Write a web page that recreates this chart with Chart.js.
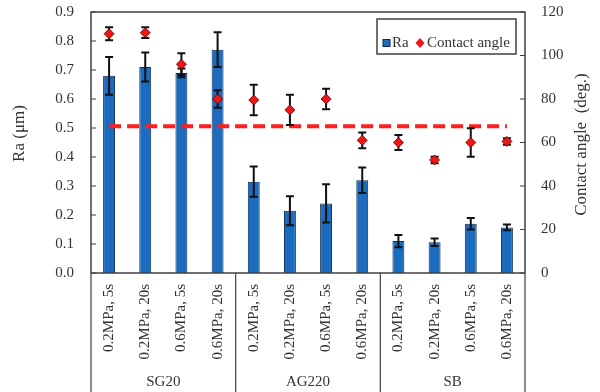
<!DOCTYPE html>
<html>
<head>
<meta charset="utf-8">
<script src="https://cdn.jsdelivr.net/npm/chart.js@4/dist/chart.umd.min.js"></script>
<style>
  html, body { margin: 0; padding: 0; background: #fff; }
  #wrap { width: 600px; height: 392px; }
</style>
</head>
<body>
<div id="wrap"><canvas id="c" width="600" height="392"></canvas></div>
<script>
// Blasting conditions (pressure, duration) repeated for each abrasive
const conditions = [
  '0.2MPa, 5s', '0.2MPa, 20s', '0.6MPa, 5s', '0.6MPa, 20s',
  '0.2MPa, 5s', '0.2MPa, 20s', '0.6MPa, 5s', '0.6MPa, 20s',
  '0.2MPa, 5s', '0.2MPa, 20s', '0.6MPa, 5s', '0.6MPa, 20s'
];
const groups = ['SG20', 'AG220', 'SB'];

// Surface roughness Ra (µm) and its standard deviation
const raValues = [0.68, 0.71, 0.69, 0.77, 0.315, 0.215, 0.24, 0.32, 0.11, 0.106, 0.17, 0.157];
const raErrors = [0.065, 0.05, 0.015, 0.06, 0.052, 0.05, 0.066, 0.044, 0.021, 0.013, 0.02, 0.01];

// Water contact angle (deg.) and its standard deviation
const angleValues = [110, 110.5, 96, 80, 79.5, 75, 80, 61, 60, 52, 60, 60.5];
const angleErrors = [3, 2.5, 5, 4, 7, 7, 4.7, 3.6, 3.4, 1.5, 6.5, 1.5];

// Reference contact angle shown as a dashed line
const referenceAngle = 67.5;

const raTicks = { min: 0, max: 0.9, step: 0.1 };
const angleTicks = { min: 0, max: 120, step: 20 };

const FONT = "'Liberation Serif', 'Times New Roman', serif";
const INK = '#333333';
const FRAME = '#404040';
const BAR_FILL = '#1b6bbf';
const BAR_EDGE = '#0e2a4e';
const DIAMOND_FILL = '#ee1616';
const DIAMOND_EDGE = '#5a0000';

function drawErrorBars(chart, values, errors, axisId) {
  const { ctx, scales } = chart;
  const xs = scales.x, ys = scales[axisId];
  ctx.save();
  ctx.strokeStyle = '#111111';
  ctx.lineWidth = 2;
  values.forEach((v, i) => {
    const px = xs.getPixelForValue(i);
    const top = ys.getPixelForValue(v + errors[i]);
    const bot = ys.getPixelForValue(v - errors[i]);
    ctx.beginPath();
    ctx.moveTo(px, top); ctx.lineTo(px, bot);
    ctx.moveTo(px - 4, top); ctx.lineTo(px + 4, top);
    ctx.moveTo(px - 4, bot); ctx.lineTo(px + 4, bot);
    ctx.stroke();
  });
  ctx.restore();
}

// keep the axis boxes at fixed sizes, with no extra label overflow padding
function fixBox(size, isHorizontal) {
  return s => {
    if (isHorizontal) s.height = size; else s.width = size;
    s.paddingTop = 0; s.paddingBottom = 0; s.paddingLeft = 0; s.paddingRight = 0;
  };
}

const decorations = {
  id: 'decorations',
  beforeDatasetDraw(chart, args) {
    if (args.index === 0) drawErrorBars(chart, angleValues, angleErrors, 'y1');
  },
  afterDatasetDraw(chart, args) {
    if (args.index === 2) drawErrorBars(chart, raValues, raErrors, 'y');
  },
  afterDraw(chart) {
    const { ctx, chartArea: a, scales } = chart;
    ctx.save();

    // plot frame
    ctx.strokeStyle = FRAME;
    ctx.lineWidth = 1.5;
    ctx.strokeRect(a.left, a.top, a.right - a.left, a.bottom - a.top);

    // inward tick marks on both value axes
    ctx.lineWidth = 1.2;
    ctx.beginPath();
    scales.y.ticks.forEach((t, i) => {
      const py = scales.y.getPixelForTick(i);
      ctx.moveTo(a.left, py); ctx.lineTo(a.left + 5, py);
    });
    scales.y1.ticks.forEach((t, i) => {
      const py = scales.y1.getPixelForTick(i);
      ctx.moveTo(a.right - 5, py); ctx.lineTo(a.right, py);
    });
    ctx.stroke();

    // separators between the abrasive groups below the axis
    const xs = scales.x;
    const n = conditions.length;
    const per = n / groups.length;
    ctx.lineWidth = 1.2;
    ctx.beginPath();
    for (let g = 0; g <= groups.length; g++) {
      let px;
      if (g === 0) px = a.left;
      else if (g === groups.length) px = a.right;
      else px = (xs.getPixelForValue(g * per - 1) + xs.getPixelForValue(g * per)) / 2;
      ctx.moveTo(px, a.bottom); ctx.lineTo(px, chart.height);
    }
    ctx.stroke();

    // axis titles
    ctx.fillStyle = INK;
    ctx.font = '17px ' + FONT;
    ctx.textAlign = 'center';
    ctx.textBaseline = 'middle';
    ctx.save();
    ctx.translate(20, (a.top + a.bottom) / 2 - 9);
    ctx.rotate(-Math.PI / 2);
    ctx.fillText('Ra (\u03bcm)', 0, 0);
    ctx.restore();
    ctx.save();
    ctx.translate(chart.width - 18, (a.top + a.bottom) / 2 + 2);
    ctx.rotate(-Math.PI / 2);
    ctx.fillText('Contact angle  (deg.)', 0, 0);
    ctx.restore();

    // legend box
    const lx = a.right - 148, ly = a.top + 7, lw = 139, lh = 35;
    ctx.fillStyle = '#ffffff';
    ctx.fillRect(lx, ly, lw, lh);
    ctx.strokeStyle = FRAME;
    ctx.lineWidth = 1.5;
    ctx.strokeRect(lx, ly, lw, lh);
    const cy = ly + 24;
    ctx.fillStyle = BAR_FILL;
    ctx.strokeStyle = BAR_EDGE;
    ctx.lineWidth = 1;
    ctx.fillRect(lx + 6, cy - 3.5, 7, 7);
    ctx.strokeRect(lx + 6, cy - 3.5, 7, 7);
    ctx.beginPath();
    const dx = lx + 43;
    ctx.moveTo(dx, cy - 5); ctx.lineTo(dx + 4.5, cy); ctx.lineTo(dx, cy + 5); ctx.lineTo(dx - 4.5, cy);
    ctx.closePath();
    ctx.fillStyle = DIAMOND_FILL;
    ctx.fill();
    ctx.fillStyle = INK;
    ctx.font = '15px ' + FONT;
    ctx.textAlign = 'left';
    ctx.fillText(chart.data.datasets[2].label, lx + 15, cy);
    ctx.fillText(chart.data.datasets[0].label, lx + 50, cy);

    ctx.restore();
  }
};

new Chart(document.getElementById('c'), {
  type: 'bar',
  data: {
    labels: conditions,
    datasets: [
      {
        type: 'line',
        label: 'Contact angle',
        data: angleValues,
        yAxisID: 'y1',
        showLine: false,
        pointStyle: 'rectRot',
        pointRadius: 5,
        pointBackgroundColor: DIAMOND_FILL,
        pointBorderColor: DIAMOND_EDGE,
        pointBorderWidth: 0.8,
        order: 1
      },
      {
        type: 'line',
        label: 'Reference',
        data: conditions.map(() => referenceAngle),
        yAxisID: 'y1',
        borderColor: '#ff1e1e',
        borderWidth: 4,
        borderDash: [12, 6],
        pointRadius: 0,
        fill: false,
        order: 2
      },
      {
        type: 'bar',
        label: 'Ra',
        data: raValues,
        yAxisID: 'y',
        backgroundColor: BAR_FILL,
        borderColor: BAR_EDGE,
        borderWidth: 1,
        categoryPercentage: 1,
        barPercentage: 0.33,
        order: 3
      }
    ]
  },
  options: {
    responsive: false,
    animation: false,
    devicePixelRatio: 1,
    layout: { padding: { top: 12, left: 0, right: 0, bottom: 0 } },
    plugins: { legend: { display: false }, tooltip: { enabled: false } },
    scales: {
      x: {
        type: 'category',
        position: 'bottom',
        weight: 0,
        offset: true,
        grid: { display: false, drawTicks: false },
        border: { display: false },
        ticks: {
          autoSkip: false, minRotation: 90, maxRotation: 90, padding: 11,
          color: INK, font: { family: FONT, size: 15 }
        },
        afterFit: fixBox(92, true)
      },
      x2: {
        type: 'category',
        labels: groups,
        position: 'bottom',
        weight: 1,
        offset: true,
        grid: { display: false, drawTicks: false },
        border: { display: false },
        ticks: { padding: 8, color: INK, font: { family: FONT, size: 15 } },
        afterFit: fixBox(27, true)
      },
      y: {
        position: 'left',
        min: raTicks.min, max: raTicks.max,
        grid: { display: false, drawTicks: false },
        border: { display: false },
        ticks: {
          stepSize: raTicks.step, padding: 17, color: INK,
          font: { family: FONT, size: 15 },
          callback: v => Number(v).toFixed(1)
        },
        afterFit: fixBox(91, false)
      },
      y1: {
        position: 'right',
        min: angleTicks.min, max: angleTicks.max,
        grid: { display: false, drawTicks: false },
        border: { display: false },
        ticks: {
          stepSize: angleTicks.step, padding: 16, color: INK,
          font: { family: FONT, size: 15 }
        },
        afterFit: fixBox(75, false)
      }
    }
  },
  plugins: [decorations]
});
</script>
</body>
</html>
